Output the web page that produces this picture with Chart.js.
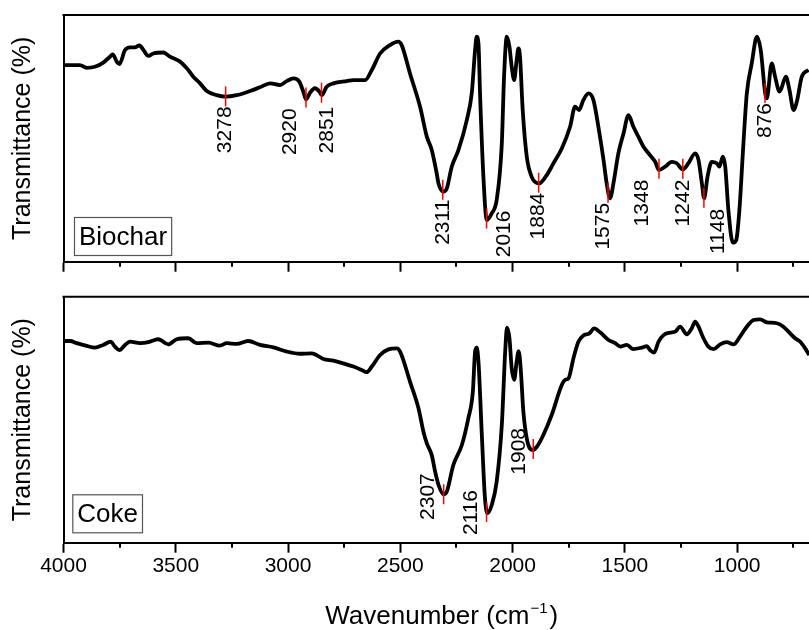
<!DOCTYPE html>
<html>
<head>
<meta charset="utf-8">
<script src="https://cdn.jsdelivr.net/npm/chart.js@4.4.1/dist/chart.umd.min.js"></script>
<style>
  html, body { margin: 0; padding: 0; background: #fff; }
  #wrap { position: relative; width: 809px; height: 630px; overflow: hidden; }
  canvas { position: absolute; left: 0; }
  #top { top: 0; }
  #bottom { top: 290px; }
</style>
</head>
<body>
<div id="wrap">
  <canvas id="top" width="809" height="290"></canvas>
  <canvas id="bottom" width="809" height="340"></canvas>
</div>
<script>
// x axis (wavenumber, cm-1), reversed
const xMajorTicks = [4000, 3500, 3000, 2500, 2000, 1500, 1000];
const xMinorTicks = [3750, 3250, 2750, 2250, 1750, 1250, 750];

// Biochar spectrum
const biocharWave = [4000, 3927, 3897, 3860, 3823, 3793, 3781, 3763, 3751, 3726,
  3704, 3682, 3662, 3644, 3622, 3600, 3555, 3526, 3481, 3451,
  3422, 3392, 3362, 3318, 3278, 3229, 3169, 3125, 3080, 3036,
  3006, 2976, 2950, 2932, 2920, 2902, 2880, 2860, 2850, 2828,
  2798, 2739, 2709, 2657, 2627, 2590, 2546, 2509, 2494, 2457,
  2412, 2382, 2360, 2338, 2330, 2308, 2293, 2271, 2241, 2204,
  2182, 2167, 2160, 2152, 2145, 2130, 2115, 2093, 2071, 2048,
  2038, 2026, 2014, 2004, 1993, 1982, 1974, 1967, 1955, 1937,
  1915, 1883, 1848, 1818, 1781, 1744, 1722, 1704, 1685, 1662,
  1640, 1618, 1595, 1581, 1566, 1551, 1529, 1506, 1484, 1462,
  1440, 1417, 1388, 1365, 1349, 1321, 1291, 1269, 1243, 1217,
  1187, 1172, 1157, 1147, 1132, 1113, 1091, 1079, 1064, 1053,
  1039, 1019, 1004, 990, 972, 957, 935, 912, 895, 875,
  868, 846, 831, 811, 783, 767, 749, 734, 712, 682];
const biocharT = [79.7, 79.7, 78.6, 79.0, 80.7, 83.1, 84.0, 81.1, 80.1, 85.8,
  86.9, 86.9, 87.7, 85.8, 83.4, 84.4, 84.8, 83.1, 81.1, 78.4,
  75.0, 72.3, 69.2, 67.5, 66.9, 67.5, 69.2, 70.7, 72.3, 71.6,
  73.2, 74.3, 73.0, 68.9, 65.8, 68.5, 70.3, 68.9, 67.5, 70.9,
  72.3, 73.2, 73.6, 73.6, 77.7, 84.4, 87.8, 89.2, 87.8, 76.3,
  62.8, 50.7, 45.3, 35.8, 31.7, 28.4, 29.7, 38.5, 45.3, 57.4,
  68.2, 85.8, 91.2, 88.5, 68.2, 34.4, 16.9, 19.6, 25.0, 48.0,
  75.0, 91.2, 87.1, 79.0, 73.6, 81.7, 86.5, 83.1, 61.5, 42.6,
  34.4, 31.7, 35.1, 39.9, 45.9, 54.7, 62.8, 61.5, 65.5, 68.2,
  65.5, 54.7, 41.2, 31.7, 25.7, 31.7, 43.9, 52.0, 59.4, 54.7,
  50.7, 46.6, 43.2, 40.5, 37.2, 38.5, 40.5, 39.9, 37.4, 39.9,
  43.9, 41.2, 31.7, 25.7, 34.4, 40.5, 39.9, 38.5, 42.6, 38.5,
  20.9, 7.7, 8.8, 20.9, 48.0, 68.2, 80.4, 91.2, 85.8, 68.2,
  66.2, 80.4, 75.0, 68.9, 75.0, 69.6, 61.5, 64.9, 75.0, 77.7];

// Coke spectrum
const cokeWave = [4000, 3971, 3941, 3897, 3860, 3823, 3790, 3771, 3751, 3726,
  3704, 3659, 3622, 3578, 3533, 3496, 3444, 3407, 3355, 3303,
  3273, 3229, 3177, 3125, 3065, 3006, 2947, 2895, 2843, 2798,
  2754, 2709, 2672, 2650, 2627, 2590, 2553, 2516, 2501, 2457,
  2419, 2397, 2382, 2360, 2345, 2330,
  2308, 2293, 2264, 2226, 2197, 2177, 2167, 2160, 2152, 2137,
  2123, 2112, 2093, 2071, 2048, 2033, 2025, 2014, 2004, 1993,
  1982, 1973, 1964, 1952, 1934, 1910, 1892, 1863, 1826, 1781,
  1766, 1751, 1729, 1707, 1685, 1658, 1637, 1610, 1573, 1543,
  1521, 1491, 1462, 1425, 1402, 1388, 1370, 1350, 1328, 1298,
  1276, 1254, 1224, 1202, 1187, 1172, 1150, 1128, 1105, 1076,
  1046, 1016, 987, 957, 927, 898, 868, 823, 794, 764,
  742, 719, 697, 679];
const cokeT = [82.0, 82.0, 81.1, 80.0, 79.3, 80.4, 81.7, 79.7, 78.3, 80.4,
  81.7, 81.1, 81.5, 82.7, 80.6, 82.7, 83.1, 81.1, 81.3, 80.1,
  81.1, 80.8, 82.0, 80.4, 79.4, 77.7, 76.8, 77.0, 74.7, 74.0,
  72.9, 71.6, 70.2, 69.3, 71.6, 76.3, 78.6, 79.0, 77.7, 65.5,
  54.6, 45.1, 40.4, 35.6, 28.9, 23.5,
  19.7, 20.8, 31.6, 39.7, 50.6, 61.4, 77.7, 79.3, 73.6, 43.8,
  18.0, 12.0, 15.3, 24.8, 47.9, 77.7, 87.4, 83.1, 70.9, 66.2,
  73.6, 77.9, 70.9, 53.3, 41.1, 37.7, 39.0, 43.8, 51.9, 64.1,
  66.2, 66.8, 75.0, 81.7, 84.2, 85.1, 87.1, 85.5, 82.4, 81.1,
  79.7, 80.4, 78.7, 79.3, 79.9, 78.3, 77.3, 81.7, 84.4, 85.4,
  85.8, 87.8, 84.7, 87.2, 89.9, 87.8, 83.1, 79.7, 78.7, 80.6,
  81.5, 80.6, 83.8, 87.8, 90.5, 90.8, 89.6, 89.2, 87.8, 85.1,
  83.1, 81.7, 79.0, 76.3];

// peak markers: where the red tick sits, its label, and the level of the trough
const biocharPeakPos = [3278, 2920, 2851, 2311, 2116, 1884, 1575, 1348, 1242, 1148, 876];
const biocharPeakText = ['3278', '2920', '2851', '2311', '2016', '1884', '1575', '1348', '1242', '1148', '876'];
const biocharPeakT = [67.0, 66.6, 68.5, 29.2, 17.5, 32.0, 27.9, 37.7, 37.7, 25.9, 68.4];

const cokePeakPos = [2307, 2116, 1908];
const cokePeakText = ['2307', '2116', '1908'];
const cokePeakT = [19.7, 12.5, 38.1];

// label nudges in px (dx, dy) relative to the bottom of the red tick
const biocharLabelShift = [[0, 0], [-16, 1], [6, 4], [0, 0], [18, -18], [0, 0], [-5, 0], [-17, 1], [0, 1], [14, 1], [0, 0]];
const cokeLabelShift = [[-15, -31], [-15, -32], [-14, -31]];

const FONT = "'Liberation Sans', Arial, sans-serif";
Chart.defaults.font.family = FONT;
Chart.defaults.color = '#000';

function toPoints(xs, ys) {
    return xs.map(function (x, i) { return { x: x, y: ys[i] }; });
}

function frameAndMinorTicks() {
    return {
        id: 'frameAndMinorTicks',
        afterDraw(chart) {
            const ctx = chart.ctx;
            const area = chart.chartArea;
            const xs = chart.scales.x;
            ctx.save();
            ctx.strokeStyle = '#000';
            ctx.lineWidth = 2;
            ctx.beginPath();
            ctx.moveTo(area.left - 1, area.top);
            ctx.lineTo(area.right, area.top);
            ctx.stroke();
            ctx.beginPath();
            xMinorTicks.forEach(function (v) {
                const px = Math.round(xs.getPixelForValue(v));
                ctx.moveTo(px, area.bottom);
                ctx.lineTo(px, area.bottom + 5);
            });
            ctx.stroke();
            ctx.restore();
        }
    };
}

function peakMarks(pos, text, level, shift) {
    return {
        id: 'peakMarks',
        afterDatasetsDraw(chart) {
            const ctx = chart.ctx;
            const xs = chart.scales.x;
            const ys = chart.scales.y;
            ctx.save();
            for (let i = 0; i < pos.length; i++) {
                const px = xs.getPixelForValue(pos[i]);
                const py = ys.getPixelForValue(level[i]);
                ctx.strokeStyle = '#ff0000';
                ctx.lineWidth = 1.5;
                ctx.beginPath();
                ctx.moveTo(px, py - 10);
                ctx.lineTo(px, py + 10);
                ctx.stroke();

                ctx.translate(px + shift[i][0], py + 10 + shift[i][1]);
                ctx.rotate(-Math.PI / 2);
                ctx.fillStyle = '#000';
                ctx.font = '21px ' + FONT;
                ctx.textAlign = 'right';
                ctx.textBaseline = 'middle';
                ctx.fillText(text[i], 0, 0);
                ctx.setTransform(1, 0, 0, 1, 0, 0);
            }
            ctx.restore();
        }
    };
}

function sampleTag(label, dx, dy) {
    return {
        id: 'sampleTag',
        afterDraw(chart) {
            const ctx = chart.ctx;
            const area = chart.chartArea;
            ctx.save();
            ctx.font = '26px ' + FONT;
            const w = ctx.measureText(label).width + 9;
            const h = 38;
            const left = area.left + dx;
            const bottom = area.bottom - dy;
            ctx.fillStyle = '#fff';
            ctx.fillRect(left, bottom - h, w, h);
            ctx.strokeStyle = '#555';
            ctx.lineWidth = 1.2;
            ctx.strokeRect(left + 0.5, bottom - h + 0.5, w, h);
            ctx.fillStyle = '#000';
            ctx.textBaseline = 'alphabetic';
            ctx.fillText(label, left + 5, bottom - 10);
            ctx.restore();
        }
    };
}

const xTitle = {
    id: 'xTitle',
    afterDraw(chart) {
        const ctx = chart.ctx;
        const area = chart.chartArea;
        const base = chart.height - 6;
        const main = 'Wavenumber (cm';
        const sup = '\u22121';
        const close = ')';
        ctx.save();
        ctx.fillStyle = '#000';
        ctx.textAlign = 'left';
        ctx.textBaseline = 'alphabetic';
        ctx.font = '26px ' + FONT;
        const w1 = ctx.measureText(main).width;
        const w3 = ctx.measureText(close).width;
        ctx.font = '15px ' + FONT;
        const w2 = ctx.measureText(sup).width + 2;
        let x = (area.left + area.right) / 2 + 5 - (w1 + w2 + w3) / 2;
        ctx.font = '26px ' + FONT;
        ctx.fillText(main, x, base);
        x += w1 + 1;
        ctx.font = '15px ' + FONT;
        ctx.fillText(sup, x, base - 11);
        x += w2;
        ctx.font = '26px ' + FONT;
        ctx.fillText(close, x, base);
        ctx.restore();
    }
};

function panelOptions(showTickLabels, axisHeight, padTop) {
    return {
        responsive: false,
        animation: false,
        devicePixelRatio: 1,
        layout: { padding: { top: padTop, left: 0, right: 0, bottom: 0 } },
        plugins: {
            legend: { display: false },
            tooltip: { enabled: false }
        },
        scales: {
            x: {
                type: 'linear',
                reverse: true,
                min: 680,
                max: 4000,
                afterBuildTicks: function (scale) {
                    scale.ticks = xMajorTicks.map(function (v) { return { value: v }; });
                },
                afterFit: function (scale) { scale.height = axisHeight; },
                ticks: {
                    display: showTickLabels,
                    font: { size: 21 },
                    color: '#000',
                    padding: 1,
                    maxRotation: 0,
                    autoSkip: false,
                    callback: function (value) { return String(value); }
                },
                grid: {
                    drawOnChartArea: false,
                    drawTicks: true,
                    tickLength: 10,
                    tickWidth: 2,
                    tickColor: '#000'
                },
                border: { display: true, color: '#000', width: 2 }
            },
            y: {
                min: 0,
                max: 100,
                afterFit: function (scale) { scale.width = 63.5; },
                ticks: { display: false },
                grid: { display: false },
                border: { display: true, color: '#000', width: 2 },
                title: {
                    display: true,
                    text: 'Transmittance (%)',
                    font: { size: 25 },
                    color: '#000',
                    padding: { top: 8, bottom: 0 }
                }
            }
        }
    };
}

function lineDataset(xs, ys) {
    return {
        data: toPoints(xs, ys),
        borderColor: '#000',
        borderWidth: 3.8,
        pointRadius: 0,
        fill: false,
        cubicInterpolationMode: 'monotone'
    };
}

new Chart(document.getElementById('top'), {
    type: 'line',
    data: { datasets: [lineDataset(biocharWave, biocharT)] },
    options: panelOptions(false, 28.3, 15),
    plugins: [frameAndMinorTicks(), peakMarks(biocharPeakPos, biocharPeakText, biocharPeakT, biocharLabelShift), sampleTag('Biochar', 10.5, 6.7)]
});

new Chart(document.getElementById('bottom'), {
    type: 'line',
    data: { datasets: [lineDataset(cokeWave, cokeT)] },
    options: panelOptions(true, 87.3, 6.7),
    plugins: [frameAndMinorTicks(), peakMarks(cokePeakPos, cokePeakText, cokePeakT, cokeLabelShift), sampleTag('Coke', 8.8, 10.4), xTitle]
});
</script>
</body>
</html>
